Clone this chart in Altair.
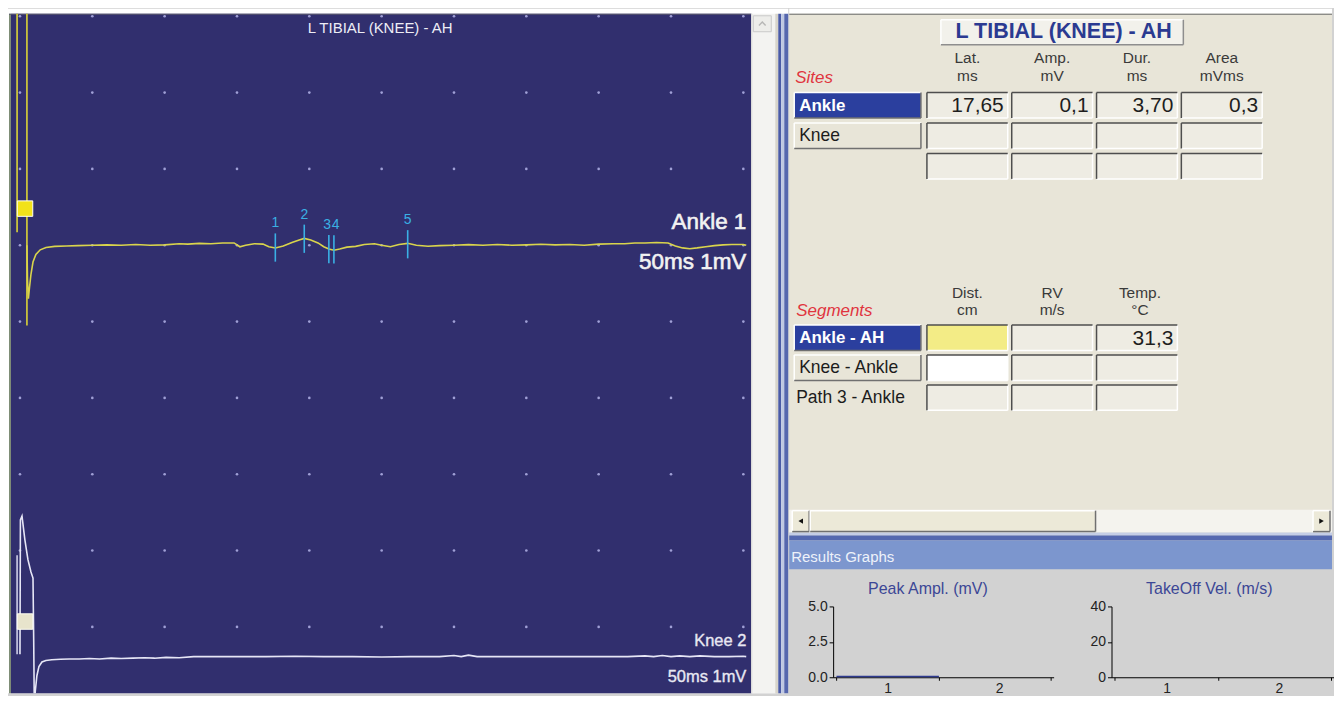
import altair as alt
import pandas as pd

# ---------------- data ----------------
# oscilloscope: 5 ms per division (10 div), 1 mV per division
grid_t = [0, 5, 10, 15, 20, 25, 30, 35, 40, 45, 50]
grid_v = [3, 2, 1, 0, -1, -2, -3, -4, -5]

ankle_t = [0.48, 0.52, 0.58, 0.66, 0.76, 0.90, 1.10, 1.40, 1.80, 2.40, 3.20, 4.00, 5.00,
           6.00, 7.00, 8.00, 9.00, 10.0, 11.0, 11.6, 12.4, 13.2, 14.0, 14.8, 15.2, 15.6,
           16.2, 16.8, 17.2, 17.65, 18.2, 18.8, 19.3, 19.65, 20.1, 20.6, 21.0, 21.35, 21.7,
           22.1, 22.6, 23.2, 23.8, 24.5, 25.0, 25.6, 26.2, 26.8, 27.4, 28.2, 29.0, 30.0,
           31.0, 32.0, 33.0, 34.0, 35.0, 36.0, 37.0, 38.0, 39.0, 40.0, 41.0, 41.8, 42.5,
           43.2, 44.0, 44.8, 45.3, 45.8, 46.3, 46.8, 47.4, 48.0, 48.6, 49.2, 50.0, 50.2]
ankle_v = [0.0, -0.45, -0.70, -0.55, -0.38, -0.22, -0.12, -0.06, -0.03, -0.015, -0.01, -0.005, 0.0,
           0.005, 0.0, 0.01, 0.0, 0.005, 0.02, 0.015, 0.025, 0.02, 0.03, 0.03, -0.02, 0.0,
           0.02, 0.015, -0.02, -0.035, -0.01, 0.035, 0.07, 0.09, 0.07, 0.03, -0.02, -0.05, -0.065,
           -0.05, -0.025, -0.015, 0.01, 0.02, 0.0, -0.02, 0.01, 0.025, 0.0, -0.013, -0.005, 0.0,
           0.008, 0.0, 0.01, 0.0, 0.005, 0.012, 0.005, 0.01, 0.0, 0.015, 0.02, 0.02, 0.03,
           0.03, 0.035, 0.03, -0.01, -0.035, -0.045, -0.035, -0.02, -0.005, 0.005, 0.01, 0.01, 0.0]

knee_t = [0.0, 0.03, 0.14, 0.34, 0.55, 0.76, 0.90, 0.95, 0.99, 1.06, 1.17, 1.31, 1.52, 1.79,
          2.2, 2.8, 3.4, 4.1, 4.8, 5.5, 6.3, 7.0, 7.8, 8.6, 9.3, 10.1, 11.0, 12.0, 13.5, 15.0,
          17.0, 19.0, 21.0, 23.0, 25.0, 27.0, 29.0, 30.0, 30.5, 31.0, 31.6, 32.5, 34.0, 36.0,
          38.0, 40.0, 42.0, 43.2, 43.8, 44.4, 45.0, 45.6, 46.3, 47.0, 48.0, 49.0, 50.0, 50.2]
knee_v = [0.03, 1.79, 1.84, 1.53, 1.27, 1.11, 1.03, 0.20, -0.63, -0.45, -0.25, -0.13, -0.07, -0.05,
          -0.04, -0.035, -0.03, -0.03, -0.025, -0.03, -0.02, -0.025, -0.02, -0.015, -0.02, -0.01,
          -0.015, 0.0, 0.0, 0.0, 0.0, 0.005, 0.0, 0.0, -0.005, 0.0, 0.0, 0.015, 0.0, 0.02, 0.0,
          0.0, 0.0, 0.0, 0.0, 0.0, 0.0, 0.01, 0.0, 0.015, 0.0, 0.01, 0.0, 0.01, 0.0, 0.0, 0.005, 0.0]
knee_offset = -5.39          # display baseline of trace 2 (mV)

marker_t = [17.65, 19.65, 21.35, 21.7, 26.8]
marker_v = [-0.03, 0.085, -0.05, -0.055, 0.013]
marker_lbl = ["1", "2", "3", "4", "5"]

ankle_cursor_t = [-0.2, 0.48]
ankle_cursor_end = [0.17, -1.05]
knee_cursor_t = [-0.2]
knee_cursor_top = [1.33]
knee_cursor_end = [0.03]
handle_t = [0.35, 0.35]
handle_v = [0.48, knee_offset + 0.46]
handle_fill = ["#F2E21A", "#E8E4CC"]

trace_names = ["Ankle 1", "Knee 2"]
trace_gain = ["50ms 1mV", "50ms 1mV"]
panel_title = "L TIBIAL (KNEE) - AH"

site_names = ["Ankle", "Knee", ""]
site_head = ["Lat.", "Amp.", "Dur.", "Area"]
site_unit = ["ms", "mV", "ms", "mVms"]
latency = [17.65, None, None]
amplitude = [0.1, None, None]
duration = [3.70, None, None]
area = [0.3, None, None]
site_decimals = [2, 1, 2, 1]

seg_names = ["Ankle - AH", "Knee - Ankle", "Path 3 - Ankle"]
seg_head = ["Dist.", "RV", "Temp."]
seg_unit = ["cm", "m/s", "°C"]
distance = [None, None, None]
velocity = [None, None, None]
temperature = [31.3, None, None]
seg_decimals = [1, 1, 1]

result_titles = ["Peak Ampl. (mV)", "TakeOff Vel. (m/s)"]
result_sites = ["1", "2"]
peak_ampl = [0.1, None]
takeoff_vel = [None, None]

# ---------------- styles ----------------
FONT = "Liberation Sans"
BLUE_BG = "#312F6E"
BEIGE = "#E8E5D8"
CELL = "#EEECE3"
GREY = "#D2D2D2"
SEL = "#2B3F9E"


def fmt(v, d):
    return "" if v is None else f"{v:.{d}f}".replace(".", ",")


# ---------------- left: oscilloscope ----------------
PX_MS, PX_MV = 14.5, 76.5
T0_X, V0_Y = 20, 245          # page position of t = 0 ms, v = 0 mV
LW, LH = 782, 686


def cx(px):
    return px - 8


def cy(py):
    return py - 8


TS = alt.Scale(domain=[(8 - T0_X) / PX_MS, (8 + LW - T0_X) / PX_MS], nice=False, zero=False)
VS = alt.Scale(domain=[(V0_Y - 8 - LH) / PX_MV, (V0_Y - 8) / PX_MV], nice=False, zero=False)
V_TOP = (V0_Y - 13) / PX_MV

one = pd.DataFrame({"k": [0]})


def vrect(x0, x1, y0, y1, fill, **kw):
    return alt.Chart(one).mark_rect(color=fill, **kw).encode(
        x=alt.value(cx(x0)), x2=alt.value(cx(x1)), y=alt.value(cy(y0)), y2=alt.value(cy(y1)))


def XT(f):
    return alt.X(f, type="quantitative", scale=TS, axis=None)


def YV(f):
    return alt.Y(f, type="quantitative", scale=VS, axis=None)


layers = [
    vrect(8, 790, 8, 694, "#FFFFFF"),
    vrect(9, 11, 13, 694, "#7E8D76"),
    vrect(11, 753, 13, 694, BLUE_BG),
    vrect(9, 753, 13, 14, "#5A5A6E"),
    vrect(753, 777, 13, 694, "#F3F3F1"),
    vrect(753, 754, 13, 694, "#D8D8D8"),
    vrect(777, 780, 13, 694, "#D7D4CB"),
    vrect(780, 783, 13, 694, "#4A5BA6"),
    vrect(783, 786, 13, 694, "#BFC8E2"),
    vrect(786, 790, 13, 694, "#5667AE"),
    vrect(755, 773, 15, 31, "#EDEDEA", stroke="#C9C9C9", strokeWidth=1),
    alt.Chart(one).mark_point(shape="M -1 0.5 L 0 -0.5 L 1 0.5", size=45, filled=False,
                              color="#A0A0A0", strokeWidth=1.4).encode(
        x=alt.value(cx(764)), y=alt.value(cy(23))),
]

df_grid = pd.DataFrame([(t, v) for v in grid_v for t in grid_t], columns=["t", "v"])
layers.append(alt.Chart(df_grid).mark_circle(size=7, color="#A0A0D6", opacity=1).encode(
    x=XT("t"), y=YV("v")))

df_ac = pd.DataFrame({"t": ankle_cursor_t, "top": [V_TOP] * len(ankle_cursor_t), "bot": ankle_cursor_end})
layers.append(alt.Chart(df_ac).mark_rule(color="#C9C23C", strokeWidth=1.8).encode(
    x=XT("t"), y=YV("top"), y2="bot:Q"))

df_kc = pd.DataFrame({"t": knee_cursor_t,
                      "top": [v + knee_offset for v in knee_cursor_top],
                      "bot": [v + knee_offset for v in knee_cursor_end]})
layers.append(alt.Chart(df_kc).mark_rule(color="#D8D8F0", strokeWidth=1.5).encode(
    x=XT("t"), y=YV("top"), y2="bot:Q"))

df_a = pd.DataFrame({"t": ankle_t, "v": ankle_v, "i": list(range(len(ankle_t)))})
layers.append(alt.Chart(df_a).mark_line(color="#D9D44C", strokeWidth=1.6, clip=True).encode(
    x=XT("t"), y=YV("v"), order="i:Q"))

df_k = pd.DataFrame({"t": knee_t, "v": [v + knee_offset for v in knee_v], "i": list(range(len(knee_t)))})
layers.append(alt.Chart(df_k).mark_line(color="#E6E6F6", strokeWidth=1.6, clip=True).encode(
    x=XT("t"), y=YV("v"), order="i:Q"))

df_h = pd.DataFrame({"t": handle_t, "v": handle_v, "fill": handle_fill})
layers.append(alt.Chart(df_h).mark_square(size=240, filled=True, opacity=1, stroke="#FFFFF2",
                                          strokeWidth=1).encode(
    x=XT("t"), y=YV("v"), color=alt.Color("fill:N", scale=None)))

df_m = pd.DataFrame({"t": marker_t, "v": marker_v, "lbl": marker_lbl})
df_m["top"] = df_m["v"] + 0.185
df_m["bot"] = df_m["v"] - 0.185
layers.append(alt.Chart(df_m).mark_rule(color="#3AB0E4", strokeWidth=1.6).encode(
    x=XT("t"), y=YV("top"), y2="bot:Q"))
# labels: 1, 2, 5 centred; 3 and 4 sit side by side ("34") as in the software
MARK_TXT = dict(color="#3AB0E4", font=FONT, fontSize=14, baseline="bottom", dy=-3)
layers.append(alt.Chart(df_m.iloc[[0, 1, 4]]).mark_text(**MARK_TXT).encode(
    x=XT("t"), y=YV("top"), text="lbl:N"))
layers.append(alt.Chart(df_m.iloc[[2]]).mark_text(align="right", dx=2.2, **MARK_TXT).encode(
    x=XT("t"), y=YV("top"), text="lbl:N"))
layers.append(alt.Chart(df_m.iloc[[3]]).mark_text(align="left", dx=-2.2, **MARK_TXT).encode(
    x=XT("t"), y=YV("top"), text="lbl:N"))

df_lab = pd.DataFrame({"t": [(748 - T0_X) / PX_MS] * 2, "v": [0.0, knee_offset],
                       "name": trace_names, "gain": trace_gain})
BIG = dict(align="right", baseline="middle", font=FONT, fontSize=22.5, color="#F2F2F2",
           stroke="#F2F2F2", strokeWidth=0.6)
SMALL = dict(align="right", baseline="middle", font=FONT, fontSize=16.5, color="#E8E8F2",
             stroke="#E8E8F2", strokeWidth=0.35)
layers.append(alt.Chart(df_lab.iloc[[0]]).mark_text(dy=-23, **BIG).encode(
    x=XT("t"), y=YV("v"), text="name:N"))
layers.append(alt.Chart(df_lab.iloc[[0]]).mark_text(dy=17, **BIG).encode(
    x=XT("t"), y=YV("v"), text="gain:N"))
layers.append(alt.Chart(df_lab.iloc[[1]]).mark_text(dy=-16, **SMALL).encode(
    x=XT("t"), y=YV("v"), text="name:N"))
layers.append(alt.Chart(df_lab.iloc[[1]]).mark_text(dy=20, **SMALL).encode(
    x=XT("t"), y=YV("v"), text="gain:N"))
layers.append(alt.Chart(one).mark_text(text=panel_title, font=FONT, fontSize=15,
                                       color="#EDEDF5").encode(
    x=alt.value(cx(381)), y=alt.value(cy(27))))

left = alt.layer(*layers).properties(width=LW, height=LH)

# ---------------- right upper: results table ----------------
# the plot origin sits where the graphs' y-axis is (834); marks reach left to 790
UX0, UORG, UX1, UY0, UY1 = 790, 834, 1334, 8, 600
XP = alt.Scale(domain=[UORG, UX1], nice=False, zero=False)
YP = alt.Scale(domain=[UY0, UY1], nice=False, zero=False, reverse=True)

rects, rules = [], []
texts = {k: [] for k in ["title", "head", "red", "sel", "btn", "val", "res", "gtitle"]}


def rect(x0, x1, y0, y1, fill):
    rects.append((x0, x1, y0, y1, fill))


def rule(x, x2, y, y2, stroke, w=1.5):
    rules.append((x, x2, y, y2, stroke, w))


def raised(x0, x1, y0, y1, fill):
    rect(x0, x1, y0, y1, fill)
    rule(x0, x1, y0, y0, "#FFFFFF")
    rule(x0, x0, y0, y1, "#FFFFFF")
    rule(x0, x1, y1, y1, "#707070")
    rule(x1, x1, y0, y1, "#707070")


def sunken(x0, x1, y0, y1, fill):
    rect(x0, x1, y0, y1, fill)
    rule(x0, x1, y1, y1, "#FFFFFF")
    rule(x1, x1, y0, y1, "#FFFFFF")
    rule(x0, x1, y0, y0, "#4E4E4E")
    rule(x0, x0, y0, y1, "#4E4E4E")


rect(UX0, UX1, 8, 13, "#FFFFFF")
rect(UX0, UX1, 13, 534, BEIGE)
rule(UX0, UX1, 13.5, 13.5, "#6E6E6E", 1.2)

# panel title box
rect(942, 1185, 19, 44, "#F2F1EB")
rule(942, 1185, 19, 19, "#FFFFFF")
rule(942, 942, 19, 44, "#FFFFFF")
rule(942, 1185, 44, 44, "#8E8E8E")
rule(1185, 1185, 19, 44, "#8E8E8E")
texts["title"].append((1065, 31.5, panel_title))

COL_X = [928, 1013, 1098, 1183]
COL_W = 81
ROW_H = 25.5
BTN_X0, BTN_X1 = 795, 922
SITE_Y = [92, 122.5, 153]
SEG_Y = [325, 355, 385]

# sites block
texts["red"].append((796, 77, "Sites"))
for j, (h, u) in enumerate(zip(site_head, site_unit)):
    texts["head"].append((COL_X[j] + COL_W / 2, 57, h))
    texts["head"].append((COL_X[j] + COL_W / 2, 75, u))
site_cols = [latency, amplitude, duration, area]
for i, name in enumerate(site_names):
    y0 = SITE_Y[i]
    if name:
        if i == 0:
            raised(BTN_X0, BTN_X1, y0, y0 + ROW_H, SEL)
            texts["sel"].append((800, y0 + ROW_H / 2 + 0.5, name))
        else:
            raised(BTN_X0, BTN_X1, y0, y0 + ROW_H, BEIGE)
            texts["btn"].append((800, y0 + ROW_H / 2 + 0.5, name))
    for j, col in enumerate(site_cols):
        sunken(COL_X[j], COL_X[j] + COL_W, y0, y0 + ROW_H, CELL)
        s = fmt(col[i], site_decimals[j])
        if s:
            texts["val"].append((COL_X[j] + COL_W - 4, y0 + ROW_H / 2 + 1, s))

# segments block
texts["red"].append((797, 311, "Segments"))
for j, (h, u) in enumerate(zip(seg_head, seg_unit)):
    texts["head"].append((COL_X[j] + COL_W / 2 + (3 if j == 2 else 0), 293, h))
    texts["head"].append((COL_X[j] + COL_W / 2 + (3 if j == 2 else 0), 310, u))
seg_cols = [distance, velocity, temperature]
seg_first_fill = ["#F3EC86", "#FFFFFF", CELL]
for i, name in enumerate(seg_names):
    y0 = SEG_Y[i]
    if i == 0:
        raised(BTN_X0, BTN_X1, y0, y0 + ROW_H, SEL)
        texts["sel"].append((800, y0 + ROW_H / 2 + 0.5, name))
    elif i == 1:
        raised(BTN_X0, BTN_X1, y0, y0 + ROW_H, BEIGE)
        texts["btn"].append((800, y0 + ROW_H / 2 + 0.5, name))
    else:
        texts["btn"].append((797, y0 + ROW_H / 2 + 0.5, name))
    for j, col in enumerate(seg_cols):
        sunken(COL_X[j], COL_X[j] + COL_W, y0, y0 + ROW_H, seg_first_fill[i] if j == 0 else CELL)
        s = fmt(col[i], seg_decimals[j])
        if s:
            texts["val"].append((COL_X[j] + COL_W - 4, y0 + ROW_H / 2 + 1, s))

# horizontal scrollbar
rect(UX0, UX1, 510, 533, "#F4F3EE")
raised(793, 810, 511, 532, "#ECE9D8")
raised(811, 1097, 511, 532, "#ECE9D8")
raised(1315, 1332, 511, 532, "#ECE9D8")
tri = pd.DataFrame({"x": [801.5, 1323.5], "y": [521.5, 521.5], "shape": ["triangle-left", "triangle-right"]})

# results graphs header
rect(UX0, UX1, 533, 536, "#C4CDE6")
rect(UX0, UX1, 536, 541, "#5468B0")
rect(UX0, UX1, 541, 570, "#7C96CE")
rect(UX0, UX1, 570, UY1, GREY)
texts["res"].append((792, 557, "Results Graphs"))
texts["gtitle"].append((929, 590, result_titles[0]))
texts["gtitle"].append((1211, 590, result_titles[1]))

df_r = pd.DataFrame(rects, columns=["x0", "x1", "y0", "y1", "fill"])
df_l = pd.DataFrame(rules, columns=["x", "x2", "y", "y2", "stroke", "w"])


def XPx(f):
    return alt.X(f, type="quantitative", scale=XP, axis=None)


def YPx(f):
    return alt.Y(f, type="quantitative", scale=YP, axis=None)


ulayers = [
    alt.Chart(df_r).mark_rect().encode(x=XPx("x0"), x2="x1:Q", y=YPx("y0"), y2="y1:Q",
                                       color=alt.Color("fill:N", scale=None)),
    alt.Chart(df_l).mark_rule().encode(x=XPx("x"), x2="x2:Q", y=YPx("y"), y2="y2:Q",
                                       color=alt.Color("stroke:N", scale=None),
                                       strokeWidth=alt.StrokeWidth("w:Q", scale=None)),
    alt.Chart(tri).mark_point(filled=True, color="#111111", size=28, opacity=1).encode(
        x=XPx("x"), y=YPx("y"), shape=alt.Shape("shape:N", scale=None)),
]

text_styles = {
    "title": dict(align="center", fontSize=21.5, fontWeight="bold", color="#2B3A91"),
    "head": dict(align="center", fontSize=15.5, color="#3A3A3A"),
    "red": dict(align="left", fontSize=17, fontStyle="italic", color="#E0343E"),
    "sel": dict(align="left", fontSize=17, fontWeight="bold", color="#FFFFFF"),
    "btn": dict(align="left", fontSize=17.5, color="#1C1C1C"),
    "val": dict(align="right", fontSize=21, color="#1E1E1E"),
    "res": dict(align="left", fontSize=15, color="#EEF2FA"),
    "gtitle": dict(align="center", fontSize=16, color="#3C4796"),
}
for key, rows in texts.items():
    if not rows:
        continue
    df_t = pd.DataFrame(rows, columns=["x", "y", "text"])
    ulayers.append(alt.Chart(df_t).mark_text(baseline="middle", font=FONT, **text_styles[key]).encode(
        x=XPx("x"), y=YPx("y"), text="text:N"))

upper = alt.layer(*ulayers).properties(width=UX1 - UORG, height=UY1 - UY0)


# ---------------- right lower: results graphs ----------------
def small_chart(values, dom, ticks, fmt_str, ext, width):
    df = pd.DataFrame({"site": result_sites, "v": values})
    return alt.Chart(df).mark_bar(color="#2E3A8E").encode(
        x=alt.X("site:N", scale=alt.Scale(domain=result_sites, paddingInner=0.08, paddingOuter=0.03),
                axis=alt.Axis(title=None, labelAngle=0, tickBand="extent", domainColor="#000000",
                              tickColor="#000000", tickSize=3, labelPadding=1, labelFontSize=14,
                              labelFont=FONT, labelColor="#222222", minExtent=17, maxExtent=17,
                              grid=False)),
        y=alt.Y("v:Q", scale=alt.Scale(domain=dom, nice=False),
                axis=alt.Axis(title=None, values=ticks, format=fmt_str, domainColor="#000000",
                              tickColor="#000000", tickSize=4, labelPadding=2, labelFontSize=14,
                              labelFont=FONT, labelColor="#222222", minExtent=ext, maxExtent=ext,
                              grid=False)),
    ).properties(width=width, height=71)


peak = small_chart(peak_ampl, [0, 5], [0, 2.5, 5], ".1f", 44, 221)
take = small_chart(takeoff_vel, [0, 40], [0, 20, 40], "d", 20, 223)
bottom = alt.hconcat(peak, take, spacing=36)

right = alt.vconcat(upper, bottom, spacing=0)

chart = alt.hconcat(left, right, spacing=0).properties(
    padding=0, background=GREY).configure_view(strokeWidth=0)

chart.save("out.html", embed_options={"renderer": "svg", "actions": False})
